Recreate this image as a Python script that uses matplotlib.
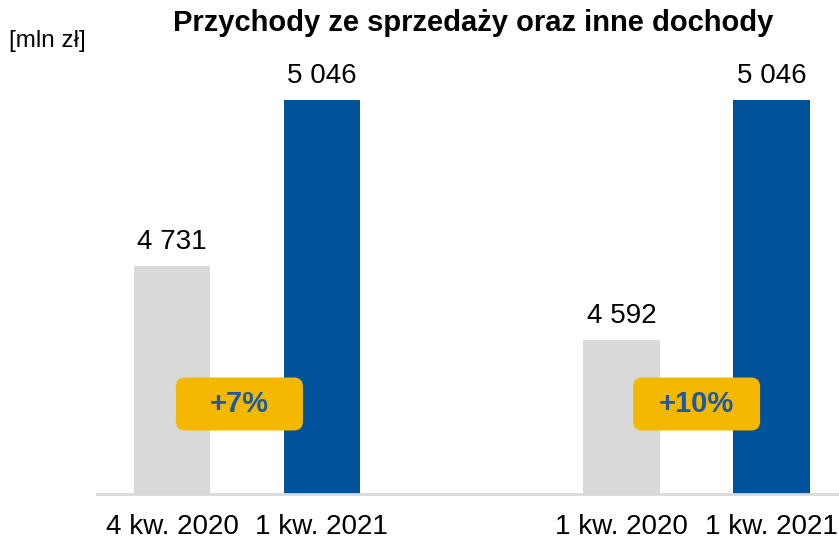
import matplotlib
matplotlib.use("Agg")
import matplotlib.pyplot as plt
from matplotlib.patches import FancyBboxPatch

plt.rcParams["font.family"] = ["Liberation Sans", "DejaVu Sans"]

title = "Przychody ze sprzedaży oraz inne dochody"
unit = "[mln zł]"
labels = ["4 kw. 2020", "1 kw. 2021", "1 kw. 2020", "1 kw. 2021"]
positions = [0, 1, 3, 4]
values = [4731, 5046, 4592, 5046]
colors = ["#D9D9D9", "#00529B", "#D9D9D9", "#00529B"]
changes = ["+7%", "+10%"]

fig = plt.figure(figsize=(8.39, 5.40), dpi=100)
ax = fig.add_axes([97 / 839, 1 - 494 / 540, 742 / 839, 434 / 540])

ax.bar(positions, values, width=0.51, color=colors, zorder=2)
ax.set_xlim(-0.5, 4.45)
ax.set_ylim(4300, 5122)

for x, v in zip(positions, values):
    txt = f"{v:,}".replace(",", " ")
    ax.annotate(txt, (x, v), xytext=(0, 8), textcoords="offset points",
                ha="center", va="bottom", fontsize=20, color="#000000")

ax.set_xticks(positions)
ax.set_xticklabels(labels, fontsize=20)
ax.tick_params(axis="x", length=0, pad=14.5)
ax.set_yticks([])
for s in ["top", "right", "left"]:
    ax.spines[s].set_visible(False)
ax.spines["bottom"].set_color("#D9D9D9")
ax.spines["bottom"].set_linewidth(2)

# growth badges between each pair of bars
fig.canvas.draw()
badge_w, badge_h = 1.27, 0.53
for (a, b), label, shift in zip([(0, 1), (2, 3)], changes, [-0.05, 0.0]):
    cx = (positions[a] + positions[b]) / 2 + shift
    px, _ = ax.transData.transform((cx, 4300))
    cx_in = px / fig.dpi
    cy_in = (540 - 404) / 100
    box = FancyBboxPatch((cx_in - badge_w / 2, cy_in - badge_h / 2), badge_w, badge_h,
                         boxstyle="round,pad=0,rounding_size=0.09",
                         transform=fig.dpi_scale_trans, facecolor="#F5B800",
                         edgecolor="none", zorder=5)
    fig.add_artist(box)
    fig.text(cx_in, cy_in, label, transform=fig.dpi_scale_trans, ha="center",
             va="center", fontsize=21, fontweight="bold", color="#1F5A9E", zorder=6)

fig.text(473 / 839, 1 - 23 / 540, title, ha="center", va="center",
         fontsize=21, fontweight="bold")
fig.text(9 / 839, 1 - 41 / 540, unit, ha="left", va="center", fontsize=17.5)

fig.savefig("out.png", dpi=100)
